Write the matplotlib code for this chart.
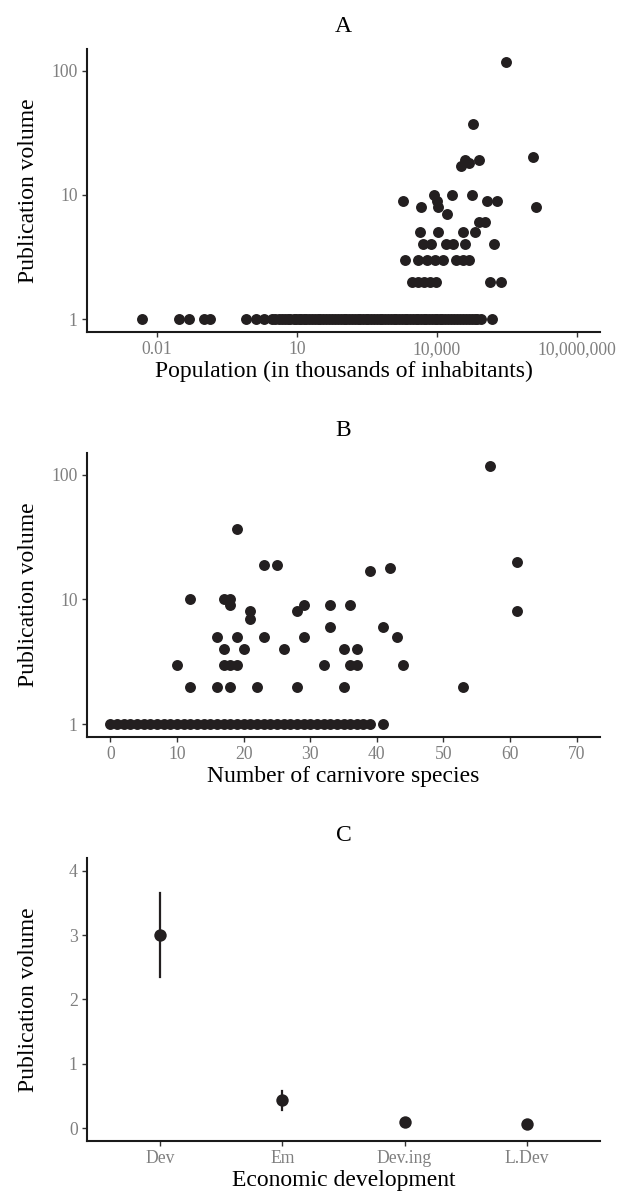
import matplotlib
matplotlib.use("Agg")
import matplotlib.pyplot as plt
import matplotlib.ticker as mticker

plt.rcParams['font.family'] = ['Liberation Serif', 'DejaVu Serif']

# Panel A - population (thousands) vs publication volume
pop_single = [0.0048, 0.030, 0.048, 0.10, 0.14, 0.80, 1.3, 2.0,
              2.9, 3.4, 4.1, 4.8, 5.5, 6.3, 7.2, 8.5, 9.6, 11, 12.5, 14, 16,
              18.5, 21, 24, 28, 32, 37, 43, 50, 58, 66, 75, 88, 100, 115, 130,
              150, 175, 200, 230, 265, 300, 340, 390, 450, 520, 600, 680, 780,
              900, 1050, 1200, 1350, 1550, 1800, 2050, 2350, 2700, 3100, 3500,
              4000, 4600, 5300, 6000, 6900, 7900, 9000, 10300, 11600, 13000,
              15000, 17500, 20000, 23000, 27000, 31000, 36000, 42000, 48000,
              56000, 66000, 74000, 90000, 155000]
pop_multi = [306000, 61000, 32700, 40500, 50000, 82000, 1140000, 1320000,
             1930, 4600, 8900, 10000, 10700, 16400, 20900, 58000, 122000, 193000,
             82000, 110000,
             4270, 10500, 37200, 66200,
             5180, 7430, 15800, 22700, 40500, 172000,
             2090, 4050, 6110, 9200, 13500, 25900, 37300, 50100,
             3010, 4050, 5350, 7200, 9530, 139000, 235000]
pub_multi = [118, 37, 17, 19, 18, 19, 20, 8,
             9, 8, 10, 9, 8, 7, 10, 10, 9, 9,
             6, 6,
             5, 5, 5, 5,
             4, 4, 4, 4, 4, 4,
             3, 3, 3, 3, 3, 3, 3, 3,
             2, 2, 2, 2, 2, 2, 2]

# Panel B - number of carnivore species vs publication volume
carn_single = list(range(0, 40)) + [41]
carn_multi = [57, 19, 23, 25, 39, 42, 61, 61,
              12, 17, 18, 18, 29, 33, 36,
              21, 28, 21, 33, 41,
              16, 19, 23, 29, 43,
              17, 20, 26, 35, 37,
              10, 17, 18, 19, 32, 36, 37, 44,
              12, 16, 18, 22, 28, 35, 53]
pub_carn = [118, 37, 19, 19, 17, 18, 20, 8,
            10, 10, 10, 9, 9, 9, 9,
            8, 8, 7, 6, 6,
            5, 5, 5, 5, 5,
            4, 4, 4, 4, 4,
            3, 3, 3, 3, 3, 3, 3, 3,
            2, 2, 2, 2, 2, 2, 2]

# Panel C - economic development
dev_levels = ['Dev', 'Em', 'Dev.ing', 'L.Dev']
dev_mean = [3.0, 0.44, 0.093, 0.067]
dev_low = [2.35, 0.285, 0.08, 0.055]
dev_high = [3.65, 0.585, 0.11, 0.08]

W, H = 633, 1198
pt_col = '#231F20'
tick_col = '#7F7F7F'


def px_axes(fig, left, right, top, bottom):
    return fig.add_axes([left / W, 1 - bottom / H, (right - left) / W, (bottom - top) / H])


def style(ax, title, xlabel):
    for s in ['top', 'right']:
        ax.spines[s].set_visible(False)
    for s in ['left', 'bottom']:
        ax.spines[s].set_linewidth(1.5)
        ax.spines[s].set_color('#1a1a1a')
    ax.tick_params(which='major', length=3.6, width=1.0, color='#333333',
                   labelcolor=tick_col, labelsize=12.7, pad=3)
    ax.tick_params(which='minor', length=0)
    ax.set_title(title, fontsize=17, pad=12)
    ax.set_xlabel(xlabel, fontsize=17, labelpad=2)
    ax.set_ylabel('Publication volume', fontsize=17)
    # align all y titles at the same x, like the stacked ggplot panels
    ax.yaxis.set_label_coords(-0.094, 0.5)


def log_y(ax):
    ax.set_yscale('log')
    ax.set_ylim(10 ** -0.104, 10 ** 2.174)
    ax.yaxis.set_major_locator(mticker.FixedLocator([1, 10, 100]))
    ax.yaxis.set_major_formatter(mticker.FixedFormatter(['1', '10', '100']))
    ax.yaxis.set_minor_locator(mticker.NullLocator())


fig = plt.figure(figsize=(W / 100, H / 100), dpi=100)

# A
axA = px_axes(fig, 87, 600, 49, 332)
axA.scatter(pop_single, [1] * len(pop_single), s=62, color=pt_col, linewidths=0, zorder=3)
axA.scatter(pop_multi, pub_multi, s=62, color=pt_col, linewidths=0, zorder=3)
axA.set_xscale('log')
axA.set_xlim(10 ** -3.5, 10 ** 7.5)
axA.xaxis.set_major_locator(mticker.FixedLocator([0.01, 10, 1e4, 1e7]))
axA.xaxis.set_major_formatter(mticker.FixedFormatter(['0.01', '10', '10,000', '10,000,000']))
axA.xaxis.set_minor_locator(mticker.NullLocator())
log_y(axA)
style(axA, 'A', 'Population (in thousands of inhabitants)')

# B
axB = px_axes(fig, 87, 600, 453, 737)
axB.scatter(carn_single, [1] * len(carn_single), s=62, color=pt_col, linewidths=0, zorder=3)
axB.scatter(carn_multi, pub_carn, s=62, color=pt_col, linewidths=0, zorder=3)
axB.set_xlim(-3.5, 73.5)
axB.set_xticks(range(0, 71, 10))
log_y(axB)
style(axB, 'B', 'Number of carnivore species')

# C
axC = px_axes(fig, 87, 600, 858, 1141)
xs = list(range(1, len(dev_levels) + 1))
for x, m, lo, hi in zip(xs, dev_mean, dev_low, dev_high):
    axC.plot([x, x], [lo, hi], color=pt_col, linewidth=1.6, zorder=2)
axC.scatter(xs, dev_mean, s=80, color=pt_col, linewidths=0, zorder=3)
axC.set_xlim(0.4, 4.6)
axC.set_ylim(-0.2, 4.2)
axC.set_xticks(xs)
axC.set_xticklabels(dev_levels)
axC.set_yticks([0, 1, 2, 3, 4])
style(axC, 'C', 'Economic development')

fig.savefig('out.png', dpi=100)
